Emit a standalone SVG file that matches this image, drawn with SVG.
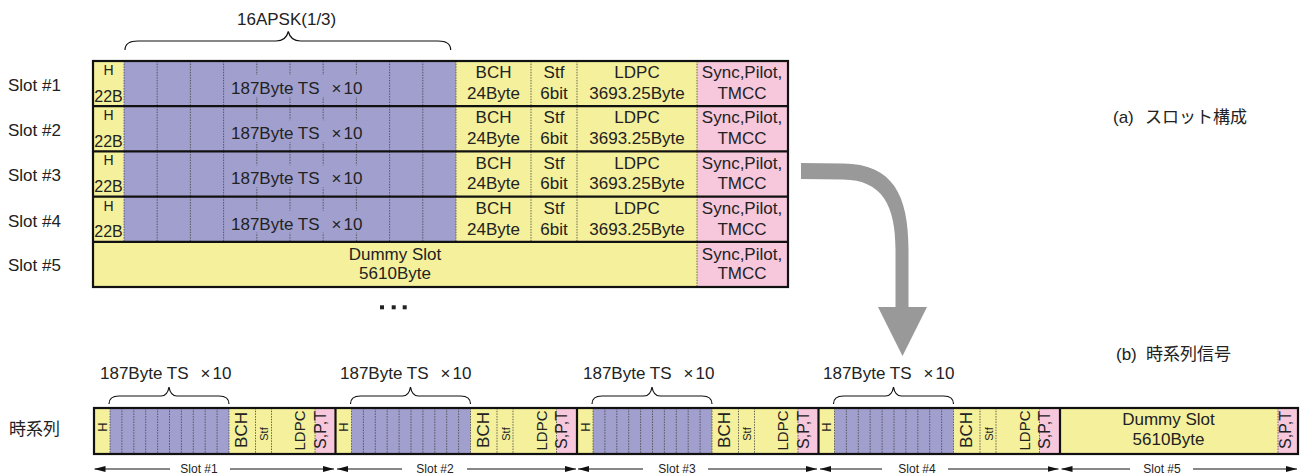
<svg xmlns="http://www.w3.org/2000/svg" width="1300" height="475" viewBox="0 0 1300 475">
<style>
.y{fill:#F4F09B}.p{fill:#A19FCD}.k{fill:#F7C7DC}
.dv{stroke:#444;stroke-width:0.8;stroke-dasharray:1.5 1.2;fill:none}
.bd{stroke:#111;stroke-width:2.2;fill:none}
.br{stroke:#111;stroke-width:1.2;fill:none}
.t{font-family:"Liberation Sans","Noto Sans CJK JP",sans-serif;fill:#222}
.f17{font-size:17px}.f16{font-size:16px}.f15{font-size:15px}.f14{font-size:14px}.f12{font-size:12px}.f11{font-size:11px}
.m{text-anchor:middle}
.ln{stroke:#111;stroke-width:1.2}
</style>
<defs>
<marker id="ah" viewBox="0 0 11 6" refX="11" refY="3" markerWidth="11" markerHeight="6" markerUnits="userSpaceOnUse" orient="auto-start-reverse">
<path d="M0,0L11,3L0,6z" fill="#111"/>
</marker>
</defs>
<rect width="1300" height="475" fill="#fff"/>

<!-- titles -->
<text class="t f17" x="237" y="25">16APSK(1/3)</text>
<path class="br" d="M125,50C125,44 129,41 138,41L276,41C283,41 287,37 288.3,31.5C289.6,37 293.6,41 300.6,41L438,41C447,41 450.7,44 450.7,50"/>
<text class="t f17" x="1113" y="123">(a)<tspan x="1145">スロット構成</tspan></text>
<text class="t f17" x="1116" y="360">(b)<tspan x="1146">時系列信号</tspan></text>

<!-- slot labels -->
<g id="labels">
<text class="t f17" x="8" y="91">Slot #1</text>
<text class="t f17" x="8" y="136.2">Slot #2</text>
<text class="t f17" x="8" y="181.4">Slot #3</text>
<text class="t f17" x="8" y="226.6">Slot #4</text>
<text class="t f17" x="8" y="271">Slot #5</text>
<text class="t f17" x="9" y="435">時系列</text>
</g>

<!-- top slot rows -->
<g id="slot1" transform="translate(0,61)">
<rect class="y" x="93" y="0" width="604" height="45.2"/>
<rect class="p" x="124" y="0" width="332" height="45.2"/>
<rect class="k" x="697" y="0" width="91" height="45.2"/>
<path class="dv" d="M124,0V45.2M157.2,0V45.2M190.4,0V45.2M223.6,0V45.2M256.8,0V45.2M290,0V45.2M323.2,0V45.2M356.4,0V45.2M389.6,0V45.2M422.8,0V45.2M456,0V45.2M531,0V45.2M577,0V45.2M697,0V45.2"/>
<rect class="p" x="229" y="14" width="139" height="22"/>
<text class="t f14 m" x="108.5" y="14">H</text>
<text class="t f16 m" x="108.5" y="40.5">22B</text>
<text class="t f17" x="231" y="33">187Byte TS<tspan dx="12">×</tspan><tspan dx="2">10</tspan></text>
<text class="t f17 m" x="493.5" y="17.3">BCH</text><text class="t f17 m" x="493.5" y="38">24Byte</text>
<text class="t f17 m" x="554" y="17.3">Stf</text><text class="t f17 m" x="554" y="38">6bit</text>
<text class="t f17 m" x="637" y="17.3">LDPC</text><text class="t f17 m" x="637" y="38">3693.25Byte</text>
<text class="t f17 m" x="742" y="17.3">Sync,Pilot,</text><text class="t f17 m" x="742" y="38">TMCC</text>
</g>
<g id="slot2" transform="translate(0,106.2)">
<rect class="y" x="93" y="0" width="604" height="45.2"/>
<rect class="p" x="124" y="0" width="332" height="45.2"/>
<rect class="k" x="697" y="0" width="91" height="45.2"/>
<path class="dv" d="M124,0V45.2M157.2,0V45.2M190.4,0V45.2M223.6,0V45.2M256.8,0V45.2M290,0V45.2M323.2,0V45.2M356.4,0V45.2M389.6,0V45.2M422.8,0V45.2M456,0V45.2M531,0V45.2M577,0V45.2M697,0V45.2"/>
<rect class="p" x="229" y="14" width="139" height="22"/>
<text class="t f14 m" x="108.5" y="14">H</text>
<text class="t f16 m" x="108.5" y="40.5">22B</text>
<text class="t f17" x="231" y="33">187Byte TS<tspan dx="12">×</tspan><tspan dx="2">10</tspan></text>
<text class="t f17 m" x="493.5" y="17.3">BCH</text><text class="t f17 m" x="493.5" y="38">24Byte</text>
<text class="t f17 m" x="554" y="17.3">Stf</text><text class="t f17 m" x="554" y="38">6bit</text>
<text class="t f17 m" x="637" y="17.3">LDPC</text><text class="t f17 m" x="637" y="38">3693.25Byte</text>
<text class="t f17 m" x="742" y="17.3">Sync,Pilot,</text><text class="t f17 m" x="742" y="38">TMCC</text>
</g>
<g id="slot3" transform="translate(0,151.4)">
<rect class="y" x="93" y="0" width="604" height="45.2"/>
<rect class="p" x="124" y="0" width="332" height="45.2"/>
<rect class="k" x="697" y="0" width="91" height="45.2"/>
<path class="dv" d="M124,0V45.2M157.2,0V45.2M190.4,0V45.2M223.6,0V45.2M256.8,0V45.2M290,0V45.2M323.2,0V45.2M356.4,0V45.2M389.6,0V45.2M422.8,0V45.2M456,0V45.2M531,0V45.2M577,0V45.2M697,0V45.2"/>
<rect class="p" x="229" y="14" width="139" height="22"/>
<text class="t f14 m" x="108.5" y="14">H</text>
<text class="t f16 m" x="108.5" y="40.5">22B</text>
<text class="t f17" x="231" y="33">187Byte TS<tspan dx="12">×</tspan><tspan dx="2">10</tspan></text>
<text class="t f17 m" x="493.5" y="17.3">BCH</text><text class="t f17 m" x="493.5" y="38">24Byte</text>
<text class="t f17 m" x="554" y="17.3">Stf</text><text class="t f17 m" x="554" y="38">6bit</text>
<text class="t f17 m" x="637" y="17.3">LDPC</text><text class="t f17 m" x="637" y="38">3693.25Byte</text>
<text class="t f17 m" x="742" y="17.3">Sync,Pilot,</text><text class="t f17 m" x="742" y="38">TMCC</text>
</g>
<g id="slot4" transform="translate(0,196.6)">
<rect class="y" x="93" y="0" width="604" height="45.2"/>
<rect class="p" x="124" y="0" width="332" height="45.2"/>
<rect class="k" x="697" y="0" width="91" height="45.2"/>
<path class="dv" d="M124,0V45.2M157.2,0V45.2M190.4,0V45.2M223.6,0V45.2M256.8,0V45.2M290,0V45.2M323.2,0V45.2M356.4,0V45.2M389.6,0V45.2M422.8,0V45.2M456,0V45.2M531,0V45.2M577,0V45.2M697,0V45.2"/>
<rect class="p" x="229" y="14" width="139" height="22"/>
<text class="t f14 m" x="108.5" y="14">H</text>
<text class="t f16 m" x="108.5" y="40.5">22B</text>
<text class="t f17" x="231" y="33">187Byte TS<tspan dx="12">×</tspan><tspan dx="2">10</tspan></text>
<text class="t f17 m" x="493.5" y="17.3">BCH</text><text class="t f17 m" x="493.5" y="38">24Byte</text>
<text class="t f17 m" x="554" y="17.3">Stf</text><text class="t f17 m" x="554" y="38">6bit</text>
<text class="t f17 m" x="637" y="17.3">LDPC</text><text class="t f17 m" x="637" y="38">3693.25Byte</text>
<text class="t f17 m" x="742" y="17.3">Sync,Pilot,</text><text class="t f17 m" x="742" y="38">TMCC</text>
</g>
<g id="slot5" transform="translate(0,241.8)">
<rect class="y" x="93" y="0" width="604" height="45.2"/>
<rect class="k" x="697" y="0" width="91" height="45.2"/>
<path class="dv" d="M697,0V45.2"/>
<text class="t f17 m" x="395" y="18">Dummy Slot</text>
<text class="t f17 m" x="395" y="37.5">5610Byte</text>
<text class="t f17 m" x="742" y="18">Sync,Pilot,</text><text class="t f17 m" x="742" y="37.5">TMCC</text>
</g>
<g id="table-border">
<rect class="bd" x="93" y="61" width="695" height="226"/>
<path class="bd" d="M93,106.2H788M93,151.4H788M93,196.6H788M93,241.8H788"/>
</g>
<g id="ellipsis" fill="#222">
<rect x="380" y="305.3" width="4" height="4"/>
<rect x="391.7" y="305.3" width="4" height="4"/>
<rect x="402.7" y="305.3" width="4" height="4"/>
</g>

<!-- time series -->
<g id="ts-slot1" transform="translate(94,408)">
<rect class="y" x="0" y="0" width="241.5" height="46"/>
<rect class="p" x="16" y="0" width="119" height="46"/>
<rect class="k" x="221" y="0" width="20.5" height="46"/>
<path class="dv" d="M16,0V46M27.9,0V46M39.8,0V46M51.7,0V46M63.6,0V46M75.5,0V46M87.4,0V46M99.3,0V46M111.2,0V46M123.1,0V46M135,0V46M161.5,0V46M177.5,0V46M221,0V46"/>
<text class="t f13 m" style="font-size:13px" transform="translate(12.7,19) rotate(-90)">H</text>
<text class="t f17 m" transform="translate(153,22) rotate(-90)">BCH</text>
<text class="t f11 m" transform="translate(174.3,26) rotate(-90)">Stf</text>
<text class="t f15 m" transform="translate(211,22.5) rotate(-90)">LDPC</text>
<text class="t f16 m" transform="translate(231.5,22) rotate(-90)">S,P,T</text>
<text class="t f17" x="6" y="-29">187Byte TS<tspan dx="12">×</tspan><tspan dx="2">10</tspan></text>
<path class="br" d="M15,-4C15,-9 18,-12 25,-12L67,-12C72,-12 74,-15 75,-21C76,-15 78,-12 83,-12L125,-12C132,-12 135,-9 135,-4"/>
</g>
<g id="ts-slot2" transform="translate(335.5,408)">
<rect class="y" x="0" y="0" width="241.5" height="46"/>
<rect class="p" x="16" y="0" width="119" height="46"/>
<rect class="k" x="221" y="0" width="20.5" height="46"/>
<path class="dv" d="M16,0V46M27.9,0V46M39.8,0V46M51.7,0V46M63.6,0V46M75.5,0V46M87.4,0V46M99.3,0V46M111.2,0V46M123.1,0V46M135,0V46M161.5,0V46M177.5,0V46M221,0V46"/>
<text class="t m" style="font-size:13px" transform="translate(12.7,19) rotate(-90)">H</text>
<text class="t f17 m" transform="translate(153,22) rotate(-90)">BCH</text>
<text class="t f11 m" transform="translate(174.3,26) rotate(-90)">Stf</text>
<text class="t f15 m" transform="translate(211,22.5) rotate(-90)">LDPC</text>
<text class="t f16 m" transform="translate(231.5,22) rotate(-90)">S,P,T</text>
<text class="t f17" x="4.5" y="-29">187Byte TS<tspan dx="12">×</tspan><tspan dx="2">10</tspan></text>
<path class="br" d="M15,-4C15,-9 18,-12 25,-12L67,-12C72,-12 74,-15 75,-21C76,-15 78,-12 83,-12L125,-12C132,-12 135,-9 135,-4"/>
</g>
<g id="ts-slot3" transform="translate(577,408)">
<rect class="y" x="0" y="0" width="241.5" height="46"/>
<rect class="p" x="16" y="0" width="119" height="46"/>
<rect class="k" x="221" y="0" width="20.5" height="46"/>
<path class="dv" d="M16,0V46M27.9,0V46M39.8,0V46M51.7,0V46M63.6,0V46M75.5,0V46M87.4,0V46M99.3,0V46M111.2,0V46M123.1,0V46M135,0V46M161.5,0V46M177.5,0V46M221,0V46"/>
<text class="t m" style="font-size:13px" transform="translate(12.7,19) rotate(-90)">H</text>
<text class="t f17 m" transform="translate(153,22) rotate(-90)">BCH</text>
<text class="t f11 m" transform="translate(174.3,26) rotate(-90)">Stf</text>
<text class="t f15 m" transform="translate(211,22.5) rotate(-90)">LDPC</text>
<text class="t f16 m" transform="translate(231.5,22) rotate(-90)">S,P,T</text>
<text class="t f17" x="6" y="-29">187Byte TS<tspan dx="12">×</tspan><tspan dx="2">10</tspan></text>
<path class="br" d="M15,-4C15,-9 18,-12 25,-12L67,-12C72,-12 74,-15 75,-21C76,-15 78,-12 83,-12L125,-12C132,-12 135,-9 135,-4"/>
</g>
<g id="ts-slot4" transform="translate(818.5,408)">
<rect class="y" x="0" y="0" width="241.5" height="46"/>
<rect class="p" x="16" y="0" width="119" height="46"/>
<rect class="k" x="221" y="0" width="20.5" height="46"/>
<path class="dv" d="M16,0V46M27.9,0V46M39.8,0V46M51.7,0V46M63.6,0V46M75.5,0V46M87.4,0V46M99.3,0V46M111.2,0V46M123.1,0V46M135,0V46M161.5,0V46M177.5,0V46M221,0V46"/>
<text class="t m" style="font-size:13px" transform="translate(12.7,19) rotate(-90)">H</text>
<text class="t f17 m" transform="translate(153,22) rotate(-90)">BCH</text>
<text class="t f11 m" transform="translate(174.3,26) rotate(-90)">Stf</text>
<text class="t f15 m" transform="translate(211,22.5) rotate(-90)">LDPC</text>
<text class="t f16 m" transform="translate(231.5,22) rotate(-90)">S,P,T</text>
<text class="t f17" x="4.5" y="-29">187Byte TS<tspan dx="12">×</tspan><tspan dx="2">10</tspan></text>
<path class="br" d="M15,-4C15,-9 18,-12 25,-12L67,-12C72,-12 74,-15 75,-21C76,-15 78,-12 83,-12L125,-12C132,-12 135,-9 135,-4"/>
</g>
<g id="ts-slot5" transform="translate(1060,408)">
<rect class="y" x="0" y="0" width="238" height="46"/>
<rect class="k" x="218" y="0" width="20" height="46"/>
<path class="dv" d="M218,0V46"/>
<text class="t f17 m" x="108.5" y="17">Dummy Slot</text>
<text class="t f17 m" x="108.5" y="37">5610Byte</text>
<text class="t f16 m" transform="translate(230.5,22) rotate(-90)">S,P,T</text>
</g>
<g id="ts-border">
<rect class="bd" x="94" y="408" width="1204" height="46"/>
<path class="bd" d="M335.5,408V454M577,408V454M818.5,408V454M1060,408V454"/>
</g>

<!-- connectors -->
<g id="connectors">
<path fill="#999" d="M801,163L843,163.5C893,164 908.5,195 908.5,250L908.5,307L927,307L902.5,356L878,307L895.5,307L895.5,250C895.5,205 882,180 843,179.5L801,179Z"/>
<g class="spans">
<line class="ln" x1="170" y1="469" x2="94.5" y2="469" marker-end="url(#ah)"/>
<line class="ln" x1="230" y1="469" x2="334" y2="469" marker-end="url(#ah)"/>
<line class="ln" x1="402" y1="469" x2="337" y2="469" marker-end="url(#ah)"/>
<line class="ln" x1="467" y1="469" x2="576" y2="469" marker-end="url(#ah)"/>
<line class="ln" x1="643" y1="469" x2="578" y2="469" marker-end="url(#ah)"/>
<line class="ln" x1="708" y1="469" x2="817" y2="469" marker-end="url(#ah)"/>
<line class="ln" x1="882" y1="469" x2="820" y2="469" marker-end="url(#ah)"/>
<line class="ln" x1="948" y1="469" x2="1058.5" y2="469" marker-end="url(#ah)"/>
<line class="ln" x1="1130" y1="469" x2="1061.5" y2="469" marker-end="url(#ah)"/>
<line class="ln" x1="1193" y1="469" x2="1297" y2="469" marker-end="url(#ah)"/>
</g>
<text class="t f12 m" x="199" y="473">Slot #1</text>
<text class="t f12 m" x="435" y="473">Slot #2</text>
<text class="t f12 m" x="677" y="473">Slot #3</text>
<text class="t f12 m" x="917" y="473">Slot #4</text>
<text class="t f12 m" x="1162" y="473">Slot #5</text>
</g>
</svg>
